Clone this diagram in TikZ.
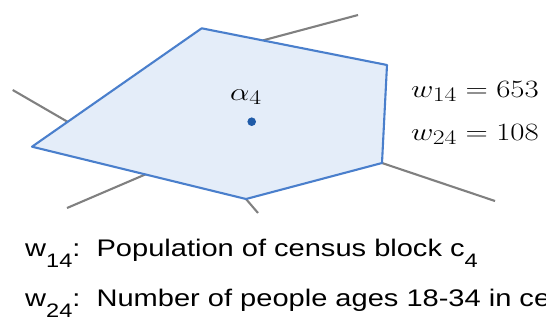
\documentclass[tikz,border=0pt]{standalone}
\usepackage{fontspec}
\setmainfont{Liberation Sans}
\usepackage{amsmath}
\usepackage{graphicx}
\usetikzlibrary{calc}

\definecolor{zellfill}{HTML}{E4EDF9}
\definecolor{zellrand}{HTML}{4A7FCC}
\definecolor{punktblau}{HTML}{1F5BA8}
\definecolor{kantengrau}{HTML}{808080}

% Text etwas in die Breite ziehen
\newcommand{\breit}[1]{\scalebox{1.21}[1]{#1}}
\newcommand{\mbreit}[1]{\scalebox{1.24}[1]{#1}}
\newcommand{\tief}[1]{\raisebox{-11pt}{\fontsize{19.5}{20}\selectfont #1}}

\begin{document}
\begin{tikzpicture}[x=1pt,y=-1pt,
		kante/.style={draw=kantengrau, line width=2.1pt},
		zelle/.style={draw=zellrand, fill=zellfill, line width=2.1pt, line join=round},
		mathe/.style={anchor=base west, inner sep=0pt, font=\fontsize{28}{32}\selectfont},
		zeile/.style={anchor=base west, inner sep=0pt, font=\fontsize{24}{28}\selectfont}]
		\useasboundingbox (0,0) rectangle (546,322);
		\clip (0,0) rectangle (546,322);
		
		% Eckpunkte der Zelle
		\coordinate (A) at (201.7,28.3);
		\coordinate (B) at (387,65);
		\coordinate (C) at (382,163);
		\coordinate (D) at (246,199);
		\coordinate (E) at (32,146.7);
		
		% freie Enden der Nachbarkanten
		\coordinate (n1) at (358,15);
		\coordinate (n2) at (12.7,90);
		\coordinate (n3) at (67,208);
		\coordinate (n4) at (258,213);
		\coordinate (n5) at (495,201);
		
		% Nachbarkanten
		\draw[kante] ($(A)!0.33!(B)$) -- (n1);
		\draw[kante] ($(A)!0.79!(E)$) -- (n2);
		\draw[kante] ($(E)!0.53!(D)$) -- (n3);
		\draw[kante] (D) -- (n4);
		\draw[kante] (C) -- (n5);
		
		% Zelle
		\draw[zelle] (A) -- (B) -- (C) -- (D) -- (E) -- cycle;
		
		% Zentrum
		\fill[punktblau] (251.7,121.7) circle (4.3pt);
		\node[mathe] (alpha) at (230,100) {\mbreit{$\alpha_4$}};
		
		% Gewichte
		\node[mathe] (w1) at (411,97) {\mbreit{$w_{14} = 653$}};
		\node[mathe] (w2) at (411,140) {\mbreit{$w_{24} = 108$}};
		
		% Erklaerung
		\node[zeile] (z1) at (25,256) {\breit{w\tief{14}:\ \ Population of census block c\tief{4}}};
		\node[zeile] (z2) at (25,306) {\breit{w\tief{24}:\ \ Number of people ages 18-34 in census block c\tief{4}}};
	\end{tikzpicture}
\end{document}
